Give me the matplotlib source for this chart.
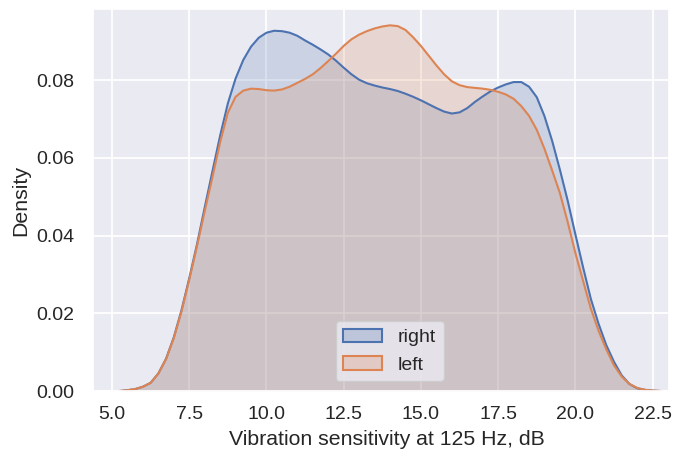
import numpy as np
import matplotlib
matplotlib.use("Agg")
import matplotlib.pyplot as plt
import seaborn as sns
from matplotlib.patches import Patch

# Density values (x in dB)
x_db = [5.25, 5.5, 5.75, 6.0, 6.25, 6.5, 6.75, 7.0, 7.25, 7.5, 7.75, 8.0, 8.25, 8.5, 8.75,
        9.0, 9.25, 9.5, 9.75, 10.0, 10.25, 10.5, 10.75, 11.0, 11.25, 11.5, 11.75, 12.0,
        12.25, 12.5, 12.75, 13.0, 13.25, 13.5, 13.75, 14.0, 14.25, 14.5, 14.75, 15.0,
        15.25, 15.5, 15.75, 16.0, 16.25, 16.5, 16.75, 17.0, 17.25, 17.5, 17.75, 18.0,
        18.25, 18.5, 18.75, 19.0, 19.25, 19.5, 19.75, 20.0, 20.25, 20.5, 20.75, 21.0,
        21.25, 21.5, 21.75, 22.0, 22.25, 22.5, 22.75]

right_density = [0.0, 0.0002, 0.0005, 0.0011, 0.0021, 0.0045, 0.0083, 0.0138, 0.0208, 0.0290,
                 0.0377, 0.0472, 0.0565, 0.0657, 0.0740, 0.0804, 0.0852, 0.0886, 0.0909, 0.0922,
                 0.0927, 0.0926, 0.0922, 0.0914, 0.0902, 0.0891, 0.0879, 0.0866, 0.0850,
                 0.0832, 0.0815, 0.0801, 0.0792, 0.0786, 0.0781, 0.0777, 0.0772, 0.0765,
                 0.0757, 0.0748, 0.0738, 0.0728, 0.0719, 0.0714, 0.0717, 0.0728, 0.0744,
                 0.0758, 0.0771, 0.0781, 0.0789, 0.0795, 0.0795, 0.0783, 0.0756, 0.0707,
                 0.0643, 0.0569, 0.0490, 0.0403, 0.0318, 0.0237, 0.0173, 0.0118, 0.0075,
                 0.0040, 0.0018, 0.0007, 0.0003, 0.0001, 0.0]

left_density = [0.0, 0.0002, 0.0005, 0.0011, 0.0021, 0.0045, 0.0082, 0.0136, 0.0205, 0.0286,
                0.0372, 0.0462, 0.0550, 0.0640, 0.0716, 0.0757, 0.0773, 0.0778, 0.0777,
                0.0774, 0.0773, 0.0776, 0.0783, 0.0793, 0.0803, 0.0815, 0.0831, 0.0849,
                0.0868, 0.0888, 0.0905, 0.0917, 0.0926, 0.0933, 0.0938, 0.0941, 0.0939,
                0.0929, 0.0910, 0.0888, 0.0863, 0.0838, 0.0815, 0.0797, 0.0787, 0.0782,
                0.0780, 0.0778, 0.0775, 0.0770, 0.0763, 0.0752, 0.0733, 0.0708, 0.0672,
                0.0623, 0.0567, 0.0509, 0.0435, 0.0355, 0.0283, 0.0212, 0.0155, 0.0107,
                0.0066, 0.0037, 0.0018, 0.0008, 0.0003, 0.0001, 0.0]

series_labels = ["right", "left"]
x_ticks = [5.0, 7.5, 10.0, 12.5, 15.0, 17.5, 20.0, 22.5]
y_ticks = [0.00, 0.02, 0.04, 0.06, 0.08]

sns.set_theme(style="darkgrid")
plt.rcParams['font.family'] = ['Liberation Sans', 'DejaVu Sans']

colors = ["#4C72B0", "#DD8452"]
series = [right_density, left_density]

fig = plt.figure(figsize=(6.74, 4.5), dpi=100)
ax = fig.add_axes([93 / 674, 59 / 450, 576 / 674, 382 / 450])

x = np.array(x_db)
for ys, c in zip(series, colors):
    ax.fill_between(x, ys, 0, color=c, alpha=0.2, linewidth=0)
    ax.plot(x, ys, color=c, linewidth=1.5, solid_joinstyle="round")

ax.set_xlim(4.385, 23.03)
ax.set_ylim(0, 0.0983)
ax.set_xticks(x_ticks)
ax.set_xticklabels([f"{t:.1f}" for t in x_ticks])
ax.set_yticks(y_ticks)
ax.set_yticklabels([f"{t:.2f}" for t in y_ticks])
ax.tick_params(labelsize=14, colors="#262626", length=0)
ax.tick_params(axis="x", pad=11)
ax.tick_params(axis="y", pad=13.5)
ax.set_xlabel("Vibration sensitivity at 125 Hz, dB", fontsize=15.3, color="#262626")
ax.xaxis.set_label_coords(0.51, -0.102)
ax.set_ylabel("Density", fontsize=15.3, color="#262626", labelpad=4.5)
ax.grid(True, color="white", linewidth=1.3)

handles = [Patch(facecolor=matplotlib.colors.to_rgba(c, 0.25), edgecolor=c, linewidth=1.5)
           for c in colors]
ax.legend(handles, series_labels, loc="lower center", fontsize=14,
          bbox_to_anchor=(0.515, 0.0), facecolor="#EAEAF2", framealpha=0.8)

fig.savefig("out.png", dpi=100)
